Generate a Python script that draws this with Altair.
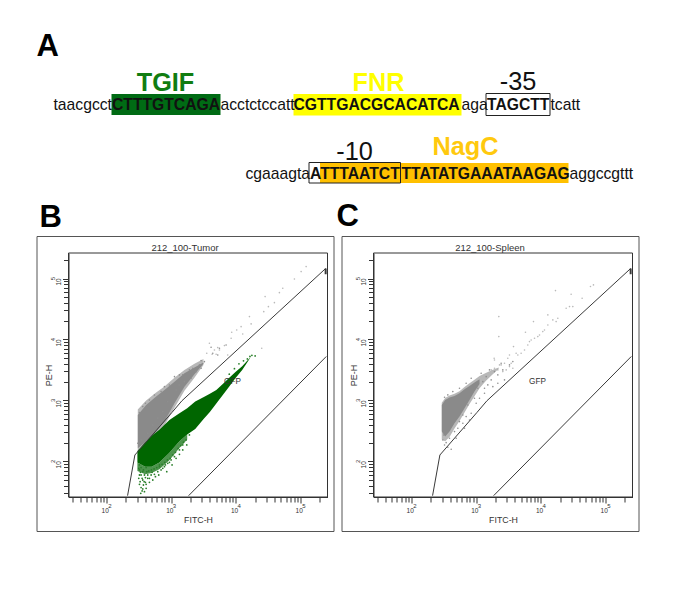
import altair as alt
import pandas as pd

# ---------- Panel A: promoter sequence ----------
regular_text = ["taacgcct", "acctctccatt", "aga", "tcatt", "cgaaagta", "aggccgttt"]
regular_x = [54, 221, 462, 551, 246, 570]
regular_y = [110, 110, 110, 110, 179, 179]

bold_text = ["CTTTGTCAGA", "CGTTGACGCACATCA", "TAGCTT", "ATTTAATCT", "TTATATGAAATAAGAG"]
bold_x = [112.5, 294, 487.5, 310.5, 402]
bold_y = [110, 110, 110, 179, 179]

site_names = ["TGIF", "FNR", "NagC"]
site_x = [166, 379, 466]
site_y = [91, 91, 155]
site_colors = ["#117d11", "#ffff00", "#ffc90e"]

box_names = ["-35", "-10"]
box_x = [518.5, 355]
box_y = [90, 160]

fill_left = [112, 294, 320.5]
fill_right = [221, 462, 569]
fill_top = [94, 94, 163]
fill_bottom = [115, 115.5, 183]
fill_colors = ["#006b14", "#ffff00", "#ffc000"]

frame_left = [486.5, 309.5]
frame_right = [550.5, 401]
frame_top = [93.5, 162.5]
frame_bottom = [115.5, 183]

panel_letters = ["A", "B", "C"]
letter_x = [37, 40, 337]
letter_y = [56, 227, 226]

# ---------- Panels B, C: log10 values ----------
upper_gate_x = [2.328, 2.441, 3.015, 3.169, 5.39]
upper_gate_y = [1.437, 2.104, 2.803, 2.995, 5.164]
lower_gate_x = [3.272, 5.40]
lower_gate_y = [1.437, 3.721]
gate_end_x = [5.39, 5.39]
gate_end_y = [5.164, 5.07]

b_gray_x = [2.486, 2.615, 2.77, 2.898, 3.053, 3.207, 3.362, 3.501]
b_gray_top = [2.761, 2.925, 3.062, 3.172, 3.308, 3.445, 3.54, 3.62]
b_gray_bot = [2.215, 2.323, 2.488, 2.652, 2.953, 3.226, 3.43, 3.60]
b_halo_top = [2.85, 3.00, 3.13, 3.23, 3.37, 3.50, 3.60, 3.68]
b_halo_bot = [2.17, 2.27, 2.42, 2.59, 2.88, 3.16, 3.37, 3.58]

b_green_x = [2.48, 2.60, 2.70, 2.82, 2.975, 3.13, 3.25, 3.374, 3.50, 3.60, 3.70, 3.80, 3.90, 4.0, 4.10, 4.22]
b_green_top = [2.17, 2.31, 2.42, 2.52, 2.68, 2.79, 2.87, 2.98, 3.05, 3.11, 3.17, 3.27, 3.37, 3.47, 3.56, 3.70]
b_green_bot = [1.98, 1.91, 1.91, 1.98, 2.14, 2.33, 2.44, 2.53, 2.69, 2.81, 2.95, 3.09, 3.23, 3.37, 3.50, 3.69]
b_band_x = [2.48, 2.60, 2.70, 2.82, 2.975, 3.13, 3.25]
b_band_top = [1.98, 1.91, 1.91, 1.98, 2.14, 2.33, 2.44]
b_band_bot = [1.84, 1.79, 1.81, 1.87, 2.02, 2.22, 2.36]

b_gray_dots_x = [3.619, 3.748, 3.645, 3.722, 3.851, 3.516, 3.465, 3.439, 3.336, 3.284, 3.181, 3.130, 3.053, 2.975,
                 2.898, 2.846, 2.743, 2.666, 2.604, 2.563, 2.512, 3.465, 3.387, 3.310, 3.207, 3.130, 3.078, 2.949,
                 2.872, 2.795, 2.718, 2.640, 2.537, 2.486]
b_gray_dots_y = [3.872, 3.855, 3.773, 3.746, 3.910, 3.636, 3.653, 3.582, 3.527, 3.500, 3.418, 3.418, 3.390, 3.253,
                 3.226, 3.144, 3.089, 3.007, 2.953, 2.898, 2.799, 3.527, 3.472, 3.363, 3.308, 3.253, 3.171, 2.980,
                 2.816, 2.706, 2.597, 2.460, 2.351, 2.296]

b_tail_x = [5.088, 5.011, 4.907, 4.727, 4.675, 4.454, 4.598, 4.505, 4.433, 4.212, 4.238, 4.083, 4.108, 4.015, 3.938,
            3.929, 3.825, 3.722, 3.671, 3.593, 3.635, 3.697, 3.748, 3.552, 3.876, 4.402]
b_tail_y = [5.195, 5.113, 4.993, 4.841, 4.768, 4.703, 4.604, 4.538, 4.456, 4.375, 4.255, 4.21, 4.09, 4.156, 4.118,
            4.02, 3.899, 3.866, 3.828, 3.938, 3.757, 3.757, 3.828, 3.774, 3.746, 3.856]

b_green_dots_x = [2.512, 2.537, 2.501, 2.563, 2.604, 2.573, 2.537, 2.615, 2.553, 2.589, 2.640, 2.692, 2.743, 2.795,
                  2.718, 2.666, 2.846, 2.898, 2.949, 3.001, 3.053, 3.130, 3.181, 3.233, 3.284, 2.934, 2.821, 2.666,
                  2.625, 2.522, 2.512, 2.563, 4.25, 4.30, 4.22, 4.18, 4.12, 4.05, 3.98, 3.90,
                  2.501, 2.537, 2.573, 2.615, 2.656, 2.697, 2.738, 2.779, 2.821, 2.862, 2.903, 2.944, 2.986, 3.027,
                  3.068, 3.109, 3.150, 3.192, 2.527, 2.589, 2.640, 2.707, 2.759, 2.810, 2.872, 2.913, 2.975, 3.016,
                  3.078, 3.130, 3.181, 3.243, 2.512, 2.553, 2.604, 2.512, 2.615, 2.563, 2.584, 2.532]
b_green_dots_y = [1.859, 1.776, 1.722, 1.694, 1.656, 1.612, 1.569, 1.558, 1.514, 1.503, 1.776, 1.776, 1.787, 1.831,
                  1.694, 1.722, 1.859, 1.913, 1.968, 2.023, 2.077, 2.187, 2.269, 2.351, 2.433, 1.831, 1.941, 1.656,
                  1.831, 1.667, 1.941, 1.831, 3.74, 3.73, 3.72, 3.68, 3.65, 3.60, 3.52, 3.43,
                  1.886, 1.897, 1.859, 1.897, 1.842, 1.859, 1.875, 1.897, 1.913, 1.952, 1.984, 2.023, 2.050, 2.105,
                  2.148, 2.214, 2.258, 2.313, 1.820, 1.776, 1.722, 1.820, 1.749, 1.776, 1.886, 1.941, 1.984, 1.941,
                  2.050, 2.116, 2.187, 2.269, 1.776, 1.722, 1.733, 1.623, 1.623, 1.547, 1.667, 1.476]

c_gray_x = [2.471, 2.523, 2.590, 2.667, 2.744, 2.822, 2.899, 2.976, 3.054]
c_gray_top = [2.926, 3.008, 3.046, 3.073, 3.117, 3.183, 3.237, 3.292, 3.347]
c_gray_bot = [2.488, 2.406, 2.488, 2.625, 2.734, 2.871, 3.008, 3.144, 3.270]
c_halo_x = [2.47, 2.523, 2.59, 2.667, 2.744, 2.822, 2.899, 2.976, 3.054, 3.15, 3.25, 3.35]
c_halo_top = [2.96, 3.04, 3.08, 3.11, 3.15, 3.22, 3.28, 3.34, 3.40, 3.45, 3.50, 3.54]
c_halo_bot = [2.36, 2.33, 2.40, 2.54, 2.66, 2.80, 2.94, 3.07, 3.20, 3.32, 3.42, 3.52]

c_gray_dots_x = [2.487, 2.513, 2.564, 2.616, 2.538, 2.502, 2.590, 2.667, 2.719, 2.796, 2.847, 2.925, 3.002, 3.054,
                 3.131, 3.182, 3.234, 3.337, 3.414, 3.517, 3.569, 3.285, 3.157, 3.105, 3.028, 2.976, 2.873, 2.796,
                 2.744, 3.079, 3.208, 3.388, 2.925, 2.847, 2.744, 2.641, 2.564, 2.513, 3.337, 3.131, 2.899, 2.822,
                 2.693, 3.440, 3.260]
c_gray_dots_y = [2.351, 2.269, 2.231, 2.198, 2.307, 2.433, 2.378, 2.488, 2.543, 2.625, 2.734, 2.789, 2.953, 3.035,
                 3.117, 3.254, 3.336, 3.418, 3.500, 3.582, 3.637, 3.473, 3.390, 3.308, 3.199, 3.035, 2.925, 2.761,
                 2.652, 3.445, 3.500, 3.609, 3.363, 3.281, 3.199, 3.144, 3.090, 3.051, 3.281, 3.199, 2.679, 2.543,
                 2.378, 3.336, 3.226]

c_tail_x = [3.234, 3.285, 3.337, 3.388, 3.440, 3.491, 3.517, 3.543, 3.569, 3.466, 3.414, 3.363, 3.285, 3.620, 3.697,
            3.749, 3.800, 3.852, 3.904, 3.981, 4.032, 4.110, 4.187, 4.264, 4.393, 4.445, 4.496, 3.579, 3.764, 3.888,
            4.110, 4.228, 4.470, 4.640, 4.769, 4.815, 3.352, 3.352, 3.280, 3.517, 3.646, 3.955, 4.058, 3.826, 4.238]
c_tail_y = [3.500, 3.527, 3.500, 3.582, 3.609, 3.691, 3.746, 3.609, 3.527, 3.500, 3.473, 3.582, 3.664, 3.773, 3.773,
            3.828, 3.910, 3.992, 4.020, 4.074, 4.129, 4.238, 4.321, 4.348, 4.512, 4.539, 4.539, 3.883, 4.118, 4.293,
            4.403, 4.802, 4.742, 4.676, 4.868, 4.895, 4.375, 4.047, 3.691, 3.555, 3.746, 4.047, 4.156, 3.965, 4.293]

gate_label_x = [3.949]
gate_label_y = [3.295]

major_ticks = [100, 1000, 10000, 100000]
tick_exponents = ["2", "3", "4", "5"]
minor_ticks = [30, 40, 50, 60, 70, 80, 90, 200, 300, 400, 500, 600, 700, 800, 900, 2000, 3000, 4000, 5000, 6000,
               7000, 8000, 9000, 20000, 30000, 40000, 50000, 60000, 70000, 80000, 90000, 200000]

FONT = "Liberation Sans"
INK = "#333333"
TICKS = "indexof([100,1000,10000,100000], datum.value) >= 0 ? '10' : ''"
MAJOR_TEST = "indexof([100,1000,10000,100000], datum.value) >= 0"


def decades(values):
    return [10 ** v for v in values]


# ---------- panel A ----------
ax = alt.X("x:Q", scale=alt.Scale(domain=[37, 639], nice=False, zero=False), axis=None)
ay = alt.Y("y:Q", scale=alt.Scale(domain=[232, 32], nice=False, zero=False), axis=None)
ax2 = alt.X2("x2:Q")
ay2 = alt.Y2("y2:Q")

fills = alt.Chart(pd.DataFrame({"x": fill_left, "x2": fill_right, "y": fill_top, "y2": fill_bottom, "c": fill_colors})
                  ).mark_rect().encode(x=ax, x2=ax2, y=ay, y2=ay2, color=alt.Color("c:N", scale=None))
frames = alt.Chart(pd.DataFrame({"x": frame_left, "x2": frame_right, "y": frame_top, "y2": frame_bottom})
                   ).mark_rect(fillOpacity=0, stroke="#222222", strokeWidth=1).encode(x=ax, x2=ax2, y=ay, y2=ay2)
regular = alt.Chart(pd.DataFrame({"t": regular_text, "x": regular_x, "y": regular_y})).mark_text(
    font=FONT, fontSize=15.7, align="left", baseline="alphabetic", color="#111111"
).encode(x=ax, y=ay, text="t:N")
bold = alt.Chart(pd.DataFrame({"t": bold_text, "x": bold_x, "y": bold_y})).mark_text(
    font=FONT, fontSize=15.7, fontWeight="bold", align="left", baseline="alphabetic", color="#111111"
).encode(x=ax, y=ay, text="t:N")
sites = alt.Chart(pd.DataFrame({"t": site_names, "x": site_x, "y": site_y, "c": site_colors})).mark_text(
    font=FONT, fontSize=25.3, fontWeight="bold", align="center", baseline="alphabetic"
).encode(x=ax, y=ay, text="t:N", color=alt.Color("c:N", scale=None))
boxes = alt.Chart(pd.DataFrame({"t": box_names, "x": box_x, "y": box_y})).mark_text(
    font=FONT, fontSize=25.3, align="center", baseline="alphabetic", color="#111111"
).encode(x=ax, y=ay, text="t:N")
letters = alt.Chart(pd.DataFrame({"t": panel_letters, "x": letter_x, "y": letter_y})).mark_text(
    font=FONT, fontSize=31, fontWeight="bold", align="left", baseline="alphabetic", color="#000000"
).encode(x=ax, y=ay, text="t:N")

panel_a = alt.layer(fills, frames, regular, bold, sites, boxes, letters).properties(
    width=602, height=200, view=alt.ViewConfig(stroke="transparent")
)


# ---------- panels B, C ----------
def make_panel(title, halo, gray, gray_dots, tail, green=None, band=None, green_dots=None):
    xs = alt.Scale(type="log", domain=[26, 262144], range=[32, 291], nice=False)
    ys = alt.Scale(type="log", domain=[26, 262144], range=[261, 17], nice=False)
    tick_size = {"condition": {"test": MAJOR_TEST, "value": 6}, "value": 5}
    x_axis = alt.Axis(
        values=minor_ticks + major_ticks, labelExpr=TICKS, grid=False, offset=-34, title="FITC-H",
        titleFont=FONT, titleFontSize=8.8, titleFontWeight="normal", titleColor=INK, titlePadding=2,
        labelFont=FONT, labelFontSize=6.5, labelColor=INK, labelOverlap=False, labelFlush=False, labelPadding=4,
        labelOffset=-1.7, tickColor=INK, domainColor=INK, tickSize=tick_size,
    )
    y_axis = alt.Axis(
        values=minor_ticks + major_ticks, labelExpr=TICKS, grid=False, offset=-32, title="PE-H",
        titleFont=FONT, titleFontSize=9, titleFontWeight="normal", titleColor=INK, titlePadding=2,
        labelFont=FONT, labelFontSize=6.5, labelColor=INK, labelOverlap=False, labelFlush=False, labelPadding=1,
        labelAngle=270, labelAlign="center", labelBaseline="bottom", labelOffset=3,
        tickColor=INK, domainColor=INK, tickSize=tick_size,
    )
    X = alt.X("x:Q", scale=xs, axis=x_axis)
    Y = alt.Y("y:Q", scale=ys, axis=y_axis)

    def area(xv, top, bot, color):
        return alt.Chart(pd.DataFrame({"x": decades(xv), "y": decades(top), "y2": decades(bot)})).mark_area(
            color=color, interpolate="linear", opacity=1
        ).encode(x=X, y=Y, y2=alt.Y2("y2:Q"))

    def dots(xv, yv, color, size=2.6, opacity=1.0):
        return alt.Chart(pd.DataFrame({"x": decades(xv), "y": decades(yv)})).mark_circle(
            color=color, size=size, opacity=opacity
        ).encode(x=X, y=Y)

    def line(xv, yv, width=1.0):
        return alt.Chart(pd.DataFrame({"x": decades(xv), "y": decades(yv)})).mark_line(
            color="#3a3a3a", strokeWidth=width
        ).encode(x=X, y=Y)

    border = alt.Chart(pd.DataFrame({"x": [26], "x2": [262144], "y": [26], "y2": [262144]})).mark_rect(
        fillOpacity=0, stroke=INK, strokeWidth=1
    ).encode(x=X, x2=alt.X2("x2:Q"), y=Y, y2=alt.Y2("y2:Q"))

    layers = [border, area(halo[0], halo[1], halo[2], "#b8b8b8"), area(gray[0], gray[1], gray[2], "#8a8a8a"),
              dots(gray_dots[0], gray_dots[1], "#8f8f8f"), dots(tail[0], tail[1], "#a8a8a8", opacity=0.8)]
    if green is not None:
        layers += [area(band[0], band[1], band[2], "#4d944d"), area(green[0], green[1], green[2], "#006600"),
                   dots(green_dots[0], green_dots[1], "#2a7f2a", size=3.2)]
    layers += [line(upper_gate_x, upper_gate_y), line(lower_gate_x, lower_gate_y), line(gate_end_x, gate_end_y, 2.0)]
    layers.append(alt.Chart(pd.DataFrame({"x": decades(gate_label_x), "y": decades(gate_label_y), "t": ["GFP"]})).mark_text(
        font=FONT, fontSize=8.2, color=INK).encode(x=X, y=Y, text="t:N"))
    layers.append(alt.Chart(pd.DataFrame({"t": [title]})).mark_text(
        font=FONT, fontSize=9.5, color=INK, align="center", baseline="alphabetic"
    ).encode(x=alt.value(148.5), y=alt.value(15), text="t:N"))
    exponents = pd.DataFrame({"x": major_ticks, "y": major_ticks, "t": tick_exponents})
    layers.append(alt.Chart(exponents).mark_text(
        font=FONT, fontSize=6, color=INK, align="center", baseline="middle", dx=3.5
    ).encode(x=X, y=alt.value(270), text="t:N"))
    layers.append(alt.Chart(exponents).mark_text(
        font=FONT, fontSize=6, color=INK, align="center", baseline="middle", angle=270, dy=-3.3
    ).encode(x=alt.value(19.5), y=Y, text="t:N"))
    return alt.layer(*layers).properties(
        width=297, height=295, view=alt.ViewConfig(stroke="#555555", strokeWidth=1)
    )


panel_b = make_panel("212_100-Tumor", (b_gray_x, b_halo_top, b_halo_bot), (b_gray_x, b_gray_top, b_gray_bot),
                     (b_gray_dots_x, b_gray_dots_y), (b_tail_x, b_tail_y),
                     (b_green_x, b_green_top, b_green_bot), (b_band_x, b_band_top, b_band_bot),
                     (b_green_dots_x, b_green_dots_y))
panel_c = make_panel("212_100-Spleen", (c_halo_x, c_halo_top, c_halo_bot), (c_gray_x, c_gray_top, c_gray_bot),
                     (c_gray_dots_x, c_gray_dots_y), (c_tail_x, c_tail_y))

bottom = alt.hconcat(panel_b, panel_c, spacing=8, bounds="flush")
chart = alt.vconcat(panel_a, bottom, spacing=4, bounds="flush").properties(
    padding={"left": 27.5, "top": 22, "right": 0, "bottom": 0}, background="white"
)
chart.save("out.html", embed_options={"renderer": "svg", "actions": False})
